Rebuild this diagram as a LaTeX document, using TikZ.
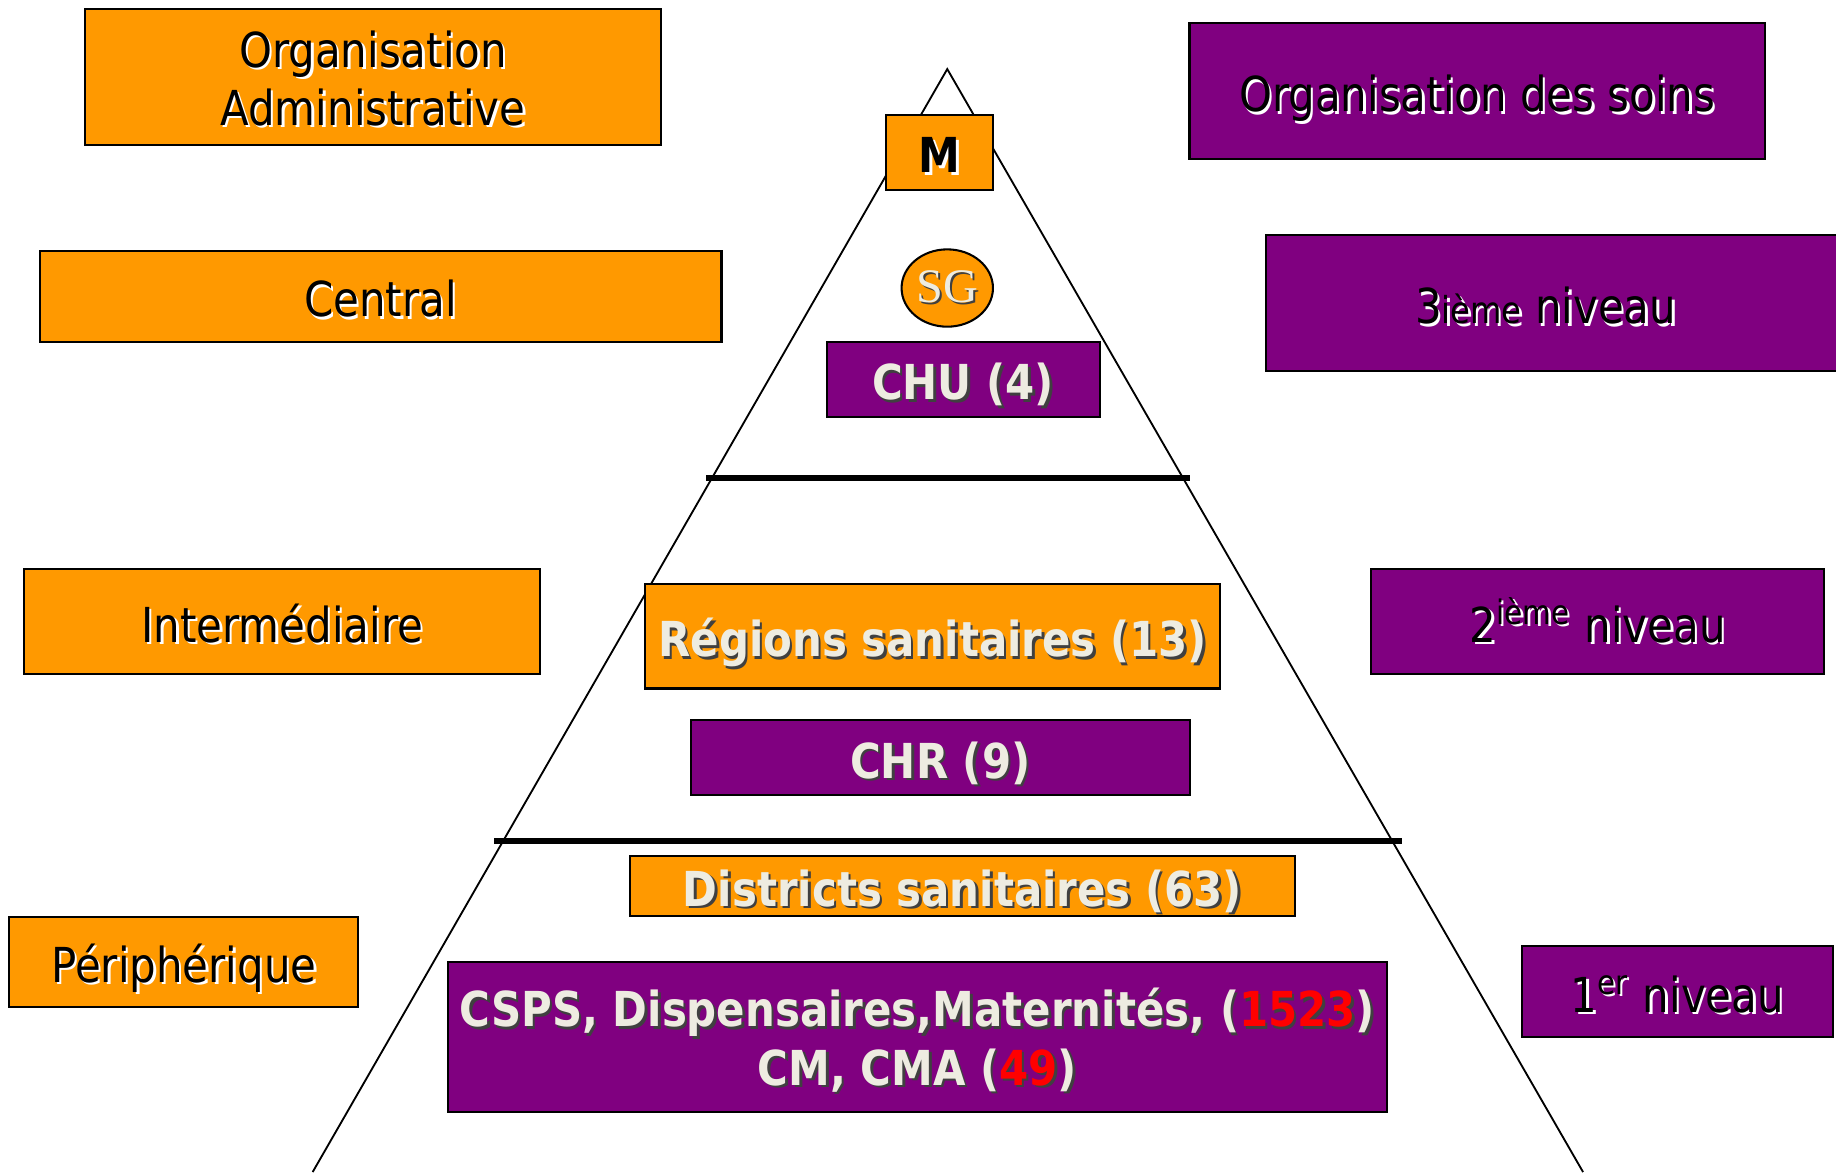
\documentclass[tikz,border=0pt]{standalone}
\usepackage{fontspec}
\setmainfont{DejaVu Sans}[FakeStretch=0.87]
\newfontfamily\sgfont{Liberation Serif}
\usetikzlibrary{shapes.geometric}

\definecolor{orgorange}{HTML}{FF9900}
\definecolor{orgpurple}{HTML}{800080}
\definecolor{cream}{HTML}{EEECE1}
\definecolor{numred}{HTML}{FF0000}

\newcommand\labelsize{\fontsize{11.7}{14.2}\selectfont}
\newcommand\red[1]{\textcolor{numred}{#1}}
% text with a small shadow, down and to the right
\newcommand\shad[2]{\leavevmode\rlap{\kern0.6pt\raisebox{-0.6pt}{\color{#1}\let\red\relax#2}}#2}

\begin{document}
\begin{tikzpicture}[x=0.01cm,y=-0.01cm,
  adminbox/.style={draw=black,line width=0.5pt,fill=orgorange,inner sep=0pt,align=center,font=\labelsize},
  soinbox/.style={draw=black,line width=0.5pt,fill=orgpurple,inner sep=0pt,align=center,font=\labelsize},
  levelbox/.style={inner sep=0pt,align=center,text=cream,font=\labelsize\bfseries},
  oneline/.style={text height=12.3pt,text depth=2.3pt}]
  \useasboundingbox (0,0) rectangle (1568,1001);

  % pyramid
  \coordinate (apex) at (809,59);
  \coordinate (baseL) at (267,1001);
  \coordinate (baseR) at (1352,1001);
  \draw[line width=0.45pt] (baseL) -- (apex) -- (baseR);
  \coordinate (cutAL) at (603,408);
  \coordinate (cutAR) at (1016,408);
  \coordinate (cutBL) at (422,718);
  \coordinate (cutBR) at (1197,718);
  \draw[line width=1.4pt] (cutAL) -- (cutAR);
  \draw[line width=1.4pt] (cutBL) -- (cutBR);

  % left column
  \node (admin) [adminbox,minimum width=4.91cm,minimum height=1.16cm] at (318.5,66)
    {\rule{0pt}{10pt}\shad{white}{Organisation}\\\shad{white}{Administrative}};
  \node (central) [adminbox,oneline,minimum width=5.82cm,minimum height=0.78cm] at (325,253)
    {\shad{white}{Central}};
  \node (inter) [adminbox,oneline,minimum width=4.40cm,minimum height=0.90cm] at (241,531)
    {\shad{white}{Intermédiaire}};
  \node (peri) [adminbox,oneline,minimum width=2.98cm,minimum height=0.77cm] at (157,821.5)
    {\shad{white}{Périphérique}};

  % right column
  \node (soins) [soinbox,oneline,minimum width=4.91cm,minimum height=1.16cm] at (1261.5,78)
    {\shad{white}{Organisation des soins}};
  \node (niv3) [soinbox,oneline,minimum width=4.94cm,minimum height=1.16cm] at (1328,259)
    {\shad{white}{3{\fontsize{9}{10}\selectfont ième} niveau}\hspace{0.16cm}};
  \node (niv2) [soinbox,oneline,minimum width=3.87cm,minimum height=0.90cm] at (1364.5,531)
    {\shad{white}{2\textsuperscript{ième} niveau}};
  \node (niv1) [soinbox,oneline,minimum width=2.65cm,minimum height=0.78cm] at (1432.5,847)
    {\shad{white}{1\textsuperscript{er} niveau}};

  % inside the pyramid
  \node (min) [adminbox,levelbox,oneline,text=black,minimum width=0.91cm,minimum height=0.64cm] at (802.5,130)
    {\shad{white}{M}};
  \node (sg) [ellipse,draw=black,line width=0.5pt,fill=orgorange,inner sep=0pt,text=cream,
    minimum width=0.78cm,minimum height=0.66cm,font=\labelsize\sgfont] at (809,246)
    {\shad{black!75}{SG}};
  \node (chu) [soinbox,levelbox,oneline,minimum width=2.33cm,minimum height=0.64cm] at (822.5,324)
    {\shad{black!75}{CHU (4)}};
  \node (reg) [adminbox,levelbox,oneline,minimum width=4.91cm,minimum height=0.89cm] at (796.5,543.5)
    {\shad{black!75}{Régions sanitaires (13)}};
  \node (chr) [soinbox,levelbox,oneline,minimum width=4.26cm,minimum height=0.64cm] at (803,647)
    {\shad{black!75}{CHR (9)}};
  \node (dist) [adminbox,levelbox,oneline,minimum width=5.68cm,minimum height=0.51cm] at (822,756.5)
    {\shad{black!75}{Districts sanitaires (63)}};
  \node (csps) [soinbox,levelbox,minimum width=8.01cm,minimum height=1.28cm] at (783.5,886)
    {\rule{0pt}{11.2pt}\shad{black!75}{CSPS, Dispensaires,Maternités, (\red{1523})}\\\shad{black!75}{CM, CMA (\red{49})}};
\end{tikzpicture}
\end{document}
